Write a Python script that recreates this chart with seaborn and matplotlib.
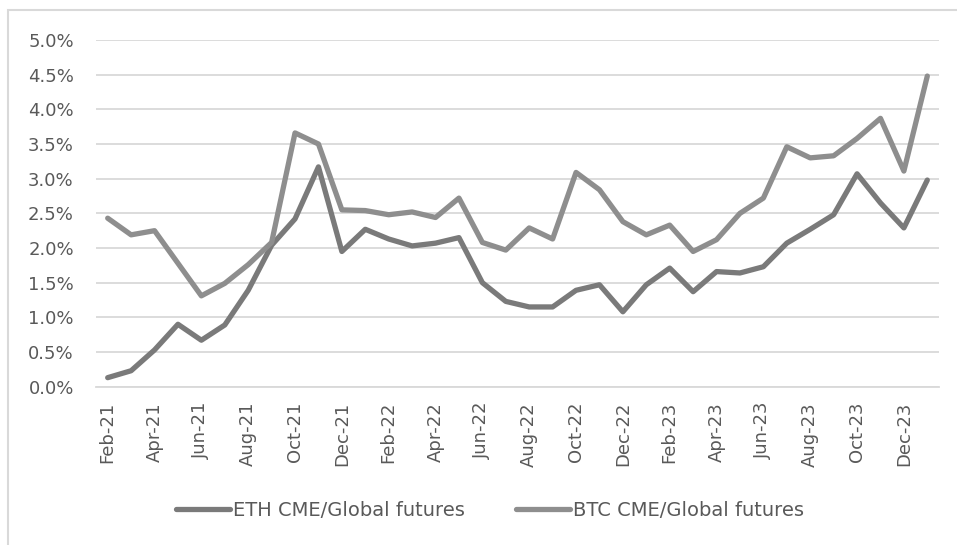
import matplotlib
matplotlib.use("Agg")
import matplotlib.pyplot as plt
from matplotlib.ticker import FuncFormatter, MultipleLocator
from matplotlib.patches import Rectangle
import pandas as pd
import numpy as np
import seaborn as sns

# monthly share of CME in global futures OI, Feb-21 .. Jan-24 (in %)
months = pd.date_range("2021-02-01", periods=36, freq="MS").strftime("%b-%y").tolist()
eth = [0.13, 0.23, 0.53, 0.90, 0.67, 0.89, 1.39, 2.04, 2.42, 3.17, 1.95, 2.27,
       2.13, 2.03, 2.07, 2.15, 1.50, 1.23, 1.15, 1.15, 1.39, 1.47, 1.08, 1.47,
       1.71, 1.37, 1.66, 1.64, 1.73, 2.07, 2.27, 2.48, 3.07, 2.65, 2.29, 2.98]
btc = [2.43, 2.19, 2.25, 1.78, 1.31, 1.49, 1.76, 2.08, 3.66, 3.50, 2.55, 2.54,
       2.48, 2.52, 2.44, 2.72, 2.08, 1.97, 2.29, 2.13, 3.09, 2.84, 2.38, 2.19,
       2.33, 1.95, 2.12, 2.50, 2.72, 3.46, 3.30, 3.33, 3.58, 3.87, 3.11, 4.48]
series_names = ["ETH CME/Global futures", "BTC CME/Global futures"]

df = pd.DataFrame({
    "pos": list(range(len(months))) * 2,
    "value": eth + btc,
    "series": [series_names[0]] * len(eth) + [series_names[1]] * len(btc),
})

sns.set_style("white")
plt.rcParams["font.family"] = ["DejaVu Sans"]

fig = plt.figure(figsize=(9.57, 5.45), dpi=100)
ax = fig.add_axes([0.1003, 0.2905, 0.8809, 0.6361])

# light frame around the whole chart, as in the source
fig.patches.append(Rectangle((8 / 957, -0.05), 1.2, 1 - 10 / 545 + 0.05,
                             transform=fig.transFigure, fill=False,
                             edgecolor="#d9d9d9", linewidth=1.5))

sns.lineplot(data=df, x="pos", y="value", hue="series", palette=["#7a7a7a", "#8e8e8e"],
             linewidth=3.8, ax=ax, legend=True)
for ln in ax.lines:
    ln.set_solid_capstyle("round")
    ln.set_solid_joinstyle("round")

ax.set_xlim(-0.5, len(months) - 0.5)
ax.set_ylim(0, 5)
ax.yaxis.set_major_locator(MultipleLocator(0.5))
ax.yaxis.set_major_formatter(FuncFormatter(lambda v, p: f"{v:.1f}%"))
ax.grid(axis="y", color="#d9d9d9", linewidth=1.3)
ax.set_axisbelow(True)

ax.set_xticks(range(0, len(months), 2))
ax.set_xticklabels(months[::2], rotation=90)
ax.set_xticks(np.arange(-0.5, len(months), 2), minor=True)
ax.tick_params(axis="x", which="major", length=0, pad=11, labelsize=13, labelcolor="#595959")
ax.tick_params(axis="x", which="minor", length=6, width=1.3, color="#d9d9d9", direction="out")
ax.tick_params(axis="y", length=0, pad=16, labelsize=13, labelcolor="#595959")
ax.set_xlabel("")
ax.set_ylabel("")

for side in ["top", "right", "left"]:
    ax.spines[side].set_visible(False)
ax.spines["bottom"].set_color("#d9d9d9")
ax.spines["bottom"].set_linewidth(1.3)

handles, labels = ax.get_legend_handles_labels()
ax.legend(handles, labels, loc="center", bbox_to_anchor=(0.512, 0.064),
          bbox_transform=fig.transFigure, ncol=2, frameon=False,
          fontsize=14, labelcolor="#595959", handlelength=2.8,
          handletextpad=0.15, columnspacing=2.6)

fig.savefig("out.png", dpi=100)
